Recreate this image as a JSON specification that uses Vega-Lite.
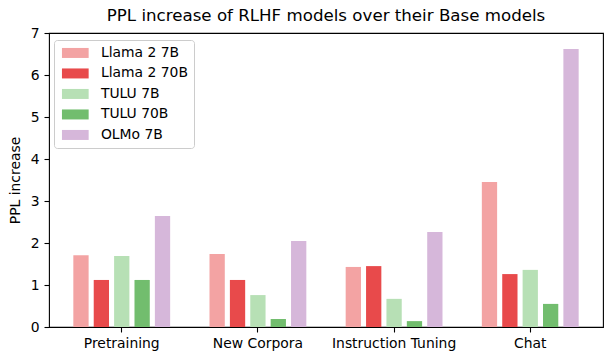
{
  "$schema": "https://vega.github.io/schema/vega-lite/v6.json",
  "width": 554,
  "height": 294,
  "autosize": {"type": "none"},
  "padding": {"left": 49, "top": 33, "right": 8, "bottom": 34},
  "background": "white",
  "title": {"text": "PPL increase of RLHF models over their Base models", "font": "DejaVu Sans", "fontSize": 16.67, "fontWeight": "normal", "color": "black", "anchor": "middle", "offset": 1},
  "config": {
    "view": {"stroke": "black", "strokeWidth": 1.1},
    "font": "DejaVu Sans",
    "axis": {"domain": false, "labelFont": "DejaVu Sans", "labelFontSize": 13.9, "labelColor": "black", "tickColor": "black", "tickSize": 5, "tickWidth": 1.1, "grid": false, "titleFont": "DejaVu Sans", "titleFontSize": 13.9, "titleFontWeight": "normal", "titleColor": "black"}
  },
  "data": {
    "values": [
      {"category": "Pretraining", "model": "Llama 2 7B", "value": 1.71},
      {"category": "Pretraining", "model": "Llama 2 70B", "value": 1.12},
      {"category": "Pretraining", "model": "TULU 7B", "value": 1.69},
      {"category": "Pretraining", "model": "TULU 70B", "value": 1.12},
      {"category": "Pretraining", "model": "OLMo 7B", "value": 2.64},
      {"category": "New Corpora", "model": "Llama 2 7B", "value": 1.74},
      {"category": "New Corpora", "model": "Llama 2 70B", "value": 1.12},
      {"category": "New Corpora", "model": "TULU 7B", "value": 0.76},
      {"category": "New Corpora", "model": "TULU 70B", "value": 0.19},
      {"category": "New Corpora", "model": "OLMo 7B", "value": 2.05},
      {"category": "Instruction Tuning", "model": "Llama 2 7B", "value": 1.43},
      {"category": "Instruction Tuning", "model": "Llama 2 70B", "value": 1.45},
      {"category": "Instruction Tuning", "model": "TULU 7B", "value": 0.67},
      {"category": "Instruction Tuning", "model": "TULU 70B", "value": 0.14},
      {"category": "Instruction Tuning", "model": "OLMo 7B", "value": 2.26},
      {"category": "Chat", "model": "Llama 2 7B", "value": 3.45},
      {"category": "Chat", "model": "Llama 2 70B", "value": 1.26},
      {"category": "Chat", "model": "TULU 7B", "value": 1.36},
      {"category": "Chat", "model": "TULU 70B", "value": 0.55},
      {"category": "Chat", "model": "OLMo 7B", "value": 6.62}
    ]
  },
  "mark": {"type": "bar"},
  "encoding": {
    "x": {
      "field": "category", "type": "nominal",
      "sort": ["Pretraining", "New Corpora", "Instruction Tuning", "Chat"],
      "scale": {"paddingInner": 0.2515, "paddingOuter": 0.16},
      "axis": {"title": null, "labelAngle": 0, "labelPadding": 4}
    },
    "xOffset": {
      "field": "model", "type": "nominal",
      "sort": ["Llama 2 7B", "Llama 2 70B", "TULU 7B", "TULU 70B", "OLMo 7B"],
      "scale": {"paddingInner": 0.25, "paddingOuter": 0.125}
    },
    "y": {
      "field": "value", "type": "quantitative",
      "scale": {"domain": [0, 7], "nice": false},
      "axis": {"title": "PPL increase", "values": [0, 1, 2, 3, 4, 5, 6, 7], "titlePadding": 8, "labelPadding": 5}
    },
    "color": {
      "field": "model", "type": "nominal",
      "sort": ["Llama 2 7B", "Llama 2 70B", "TULU 7B", "TULU 70B", "OLMo 7B"],
      "scale": {"domain": ["Llama 2 7B", "Llama 2 70B", "TULU 7B", "TULU 70B", "OLMo 7B"], "range": ["#f3a3a3", "#e84a4b", "#b7e0b5", "#72bd6e", "#d6b7da"]},
      "legend": {
        "title": null, "orient": "none", "legendX": 5, "legendY": 7,
        "symbolType": "M-1,-1H4.34V1H-1Z", "symbolSize": 100, "symbolOpacity": 1, "symbolStrokeWidth": 0,
        "labelFont": "DejaVu Sans", "labelFontSize": 13.9, "labelColor": "black", "labelOffset": 27,
        "rowPadding": 5.5, "padding": 6, "strokeColor": "#cccccc", "fillColor": "white", "cornerRadius": 3
      }
    }
  }
}
